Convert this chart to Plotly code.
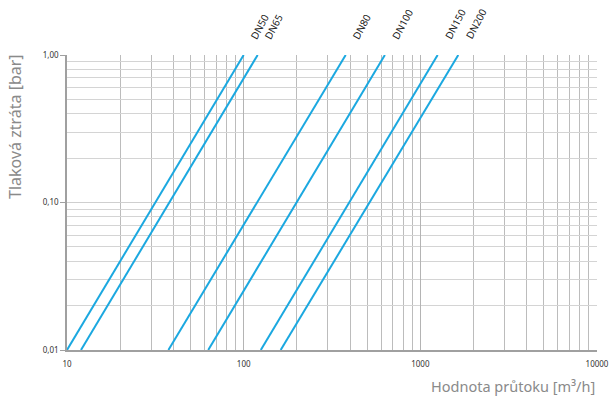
import plotly.graph_objects as go
import math

# Data
dn_labels = ["DN50", "DN65", "DN80", "DN100", "DN150", "DN200"]
flow_at_low = [10, 12, 37.5, 63, 125, 162]        # m3/h at 0.01 bar
flow_at_high = [100, 120, 378, 630, 1253, 1640]   # m3/h at 1.00 bar
pressure_ends = [0.01, 1.0]

y_tickvals = [0.01, 0.1, 1.0]
y_ticktext = ["0,01", "0,10", "1,00"]
x_tickvals = [10, 100, 1000, 10000]
x_ticktext = ["10", "100", "1000", "10000"]

LINE = "#1ba8e0"
FONT = "Noto Sans"

fig = go.Figure()
for name, q0, q1 in zip(dn_labels, flow_at_low, flow_at_high):
    fig.add_trace(go.Scatter(x=[q0, q1], y=pressure_ends, mode="lines",
                             line=dict(color=LINE, width=2), name=name,
                             showlegend=False, hoverinfo="skip"))
    fig.add_annotation(x=math.log10(q1), y=1, xref="x", yref="paper",
                       text=name, textangle=-62, showarrow=False,
                       xanchor="left", yanchor="bottom", xshift=1, yshift=11,
                       font=dict(family=FONT, size=10, color="#222"))

fig.update_layout(
    width=611, height=401, autosize=False,
    margin=dict(l=67, r=14, t=55, b=51, autoexpand=False),
    paper_bgcolor="white", plot_bgcolor="white",
    font=dict(family=FONT),
    xaxis=dict(type="log", range=[1, 4], tickvals=x_tickvals, ticktext=x_ticktext,
               automargin=False,
               showgrid=True, gridcolor="#b4b4b4", gridwidth=1,
               minor=dict(dtick="D1", showgrid=True, gridcolor="#bcbcbc", gridwidth=1, ticks=""),
               showline=True, linecolor="#a0a0a0", linewidth=1.5, mirror=False,
               ticks="", ticklabelstandoff=6,
               tickfont=dict(size=8, color="#333"), zeroline=False),
    yaxis=dict(type="log", range=[-2, 0], tickvals=y_tickvals, ticktext=y_ticktext,
               automargin=False,
               showgrid=True, gridcolor="#cfcfcf", gridwidth=1,
               minor=dict(dtick="D1", showgrid=True, gridcolor="#d4d4d4", gridwidth=1, ticks=""),
               showline=True, linecolor="#a0a0a0", linewidth=1.5,
               ticks="outside", ticklen=5, tickcolor="#a0a0a0",
               tickfont=dict(size=8, color="#333"), zeroline=False),
)

# axis titles placed as in the reference
fig.add_annotation(x=(15 - 67) / 530, y=1 - (127 - 55) / 295, xref="paper", yref="paper",
                   text="Tlaková ztráta [bar]", showarrow=False, textangle=-90,
                   xanchor="center", yanchor="middle",
                   font=dict(family=FONT, size=16, color="#8a8a8a"))

fig.add_annotation(x=1, y=0, xref="paper", yref="paper", text="Hodnota průtoku [m³/h]",
                   showarrow=False, xanchor="right", yanchor="middle",
                   xshift=0, yshift=-36,
                   font=dict(family=FONT, size=14.5, color="#8a8a8a"))

fig.write_html("out.html", config={"displayModeBar": False, "responsive": False},
               post_script="document.body.style.margin='0';document.body.style.overflow='hidden';")
